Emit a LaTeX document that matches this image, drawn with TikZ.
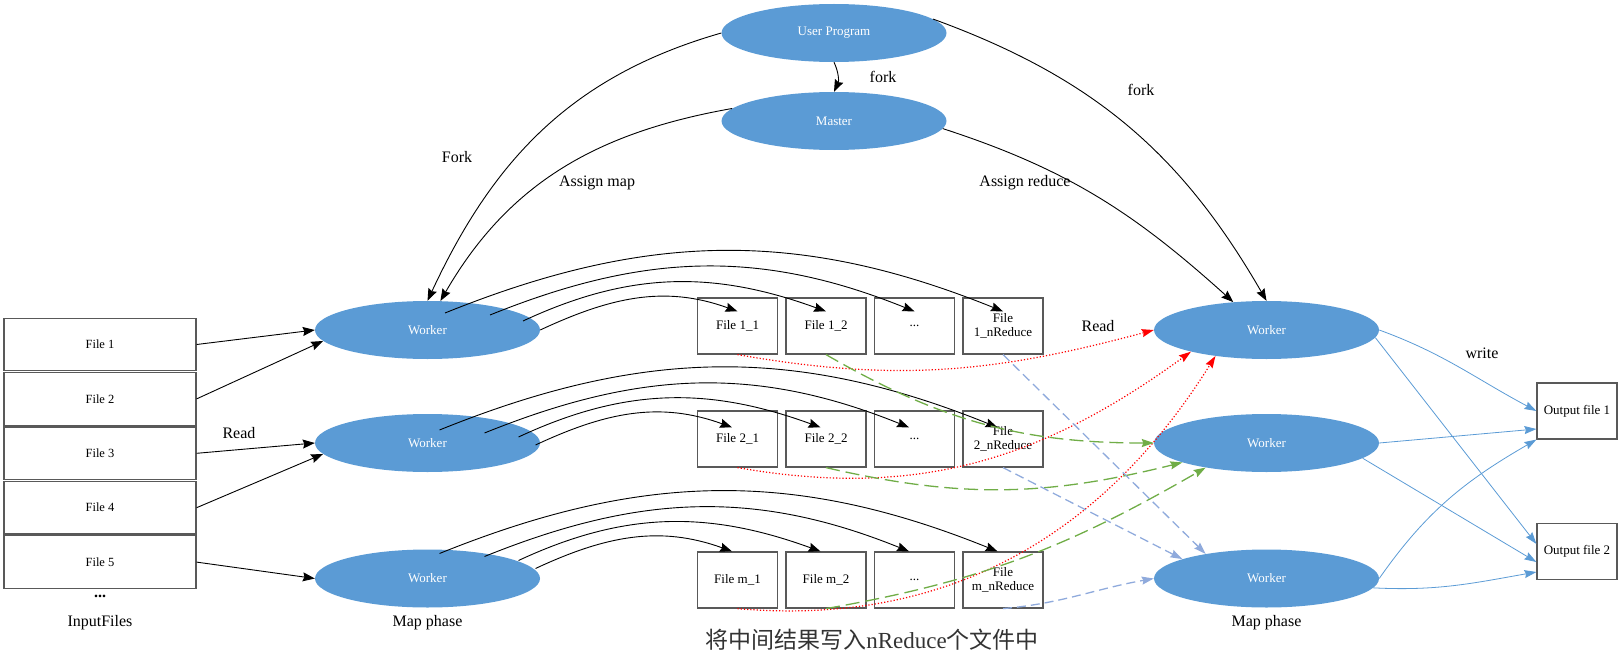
\documentclass[tikz,border=0pt]{standalone}
\usepackage{fontspec}
\setmainfont{Liberation Serif}
\newfontfamily\cjk{Noto Sans CJK SC}
\usepackage{tikz}
\usetikzlibrary{shapes.geometric, arrows.meta}

\definecolor{wblue}{HTML}{5B9BD5}
\definecolor{mgreen}{HTML}{70AD47}
\definecolor{lblue}{HTML}{8FAADC}

\begin{document}
\begin{tikzpicture}[x=1pt, y=1pt, node distance=113pt]
        \tikzstyle{worker} = [ellipse, minimum width=225pt, minimum height=58pt, inner sep=0pt, fill=wblue, text=white, font=\fontsize{13}{15}\selectfont]
        \tikzstyle{infile} = [rectangle, minimum width=192pt, minimum height=52.5pt, draw=black!65, line width=1.2pt, font=\fontsize{12.5}{15}\selectfont]
        \tikzstyle{midfile} = [rectangle, minimum width=80pt, minimum height=56pt, draw=black!65, line width=1.2pt, align=center, font=\fontsize{13}{14}\selectfont]
        \tikzstyle{lbl} = [font=\fontsize{16}{18}\selectfont]
        \tikzstyle{arrow} = [line width=0.9pt, -{Stealth[length=12pt, width=9pt, inset=1.5pt]}]
        \tikzstyle{readline} = [line width=1.2pt, red, dotted, -{Stealth[length=12pt, width=8pt, inset=1.5pt]}]
        \tikzstyle{greenline} = [line width=1.3pt, mgreen, dash pattern=on 14pt off 6pt, -{Stealth[length=12pt, width=8pt, inset=1.5pt]}]
        \tikzstyle{bluedash} = [line width=1.3pt, lblue, dash pattern=on 9pt off 5pt, -{Stealth[length=12pt, width=8pt, inset=1.5pt]}]
        \tikzstyle{outarrow} = [line width=0.8pt, wblue, -{Stealth[length=12pt, width=8pt, inset=1.5pt]}]

        \useasboundingbox (0,0) rectangle (1621,-666);

        \node (up) [worker] at (834,-33) {User Program};
        \node (master) [worker, below of=up, yshift=25pt] {Master};

        \node (mw1) [worker] at (427.5,-330) {Worker};
        \node (mw2) [worker, below of=mw1] {Worker};
        \node (mw3) [worker, below of=mw2, yshift=-22.5pt] {Worker};

        \node (rw1) [worker] at (1266.5,-330) {Worker};
        \node (rw2) [worker, below of=rw1] {Worker};
        \node (rw3) [worker, below of=rw2, yshift=-22.5pt] {Worker};

        \node (in1) [infile] at (100,-344.5) {File 1};
        \node (in2) [infile, below of=in1, yshift=58.6pt] {File 2};
        \node (in3) [infile, below of=in2, yshift=58.6pt] {File 3};
        \node (in4) [infile, below of=in3, yshift=58.6pt] {File 4};
        \node (in5) [infile, below of=in4, yshift=58.6pt] {File 5};

        \node (f11) [midfile] at (737.5,-326) {File 1\_1};
        \node (f12) [midfile, right of=f11, xshift=-24.5pt] {File 1\_2};
        \node (f13) [midfile, right of=f12, xshift=-24.5pt] {...};
        \node (f14) [midfile, right of=f13, xshift=-24.5pt] {File\\1\_nReduce};
        \node (f21) [midfile, below of=f11] {File 2\_1};
        \node (f22) [midfile, right of=f21, xshift=-24.5pt] {File 2\_2};
        \node (f23) [midfile, right of=f22, xshift=-24.5pt] {...};
        \node (f24) [midfile, right of=f23, xshift=-24.5pt] {File\\2\_nReduce};
        \node (fm1) [midfile, below of=f21, yshift=-28pt] {File m\_1};
        \node (fm2) [midfile, right of=fm1, xshift=-24.5pt] {File m\_2};
        \node (fm3) [midfile, right of=fm2, xshift=-24.5pt] {...};
        \node (fm4) [midfile, right of=fm3, xshift=-24.5pt] {File\\m\_nReduce};

        \node (out1) [midfile] at (1577,-411) {Output file 1};
        \node (out2) [midfile, below of=out1, yshift=-27.5pt] {Output file 2};

        \node (lfork1) [lbl] at (883,-77) {fork};
        \node (lfork2) [lbl] at (1141,-90) {fork};
        \node (lfork3) [lbl] at (457,-157) {Fork};
        \node (lamap) [lbl] at (597,-183) {Assign map};
        \node (lared) [lbl] at (1025,-183) {Assign reduce};
        \node (lread1) [lbl] at (239,-433) {Read};
        \node (lread2) [lbl] at (1098,-326) {Read};
        \node (lwrite) [lbl] at (1482,-353) {write};
        \node (ldots) [lbl] at (100,-596) {\textbf{...}};
        \node (linput) [lbl] at (100,-623) {InputFiles};
        \node (lmap1) [lbl] at (427.5,-623) {Map phase};
        \node (lmap2) [lbl] at (1266.5,-623) {Map phase};
        \node (lcap) [text=black!80, font=\fontsize{23}{26}\selectfont] at (872,-640) {{\cjk 将中间结果写入}nReduce{\cjk 个文件中}};

        % read the input splits
        \draw [arrow] (in1.east) -- (mw1.west);
        \draw [arrow] (in2.east) -- (mw1.186);
        \draw [arrow] (in3.east) -- (mw2.west);
        \draw [arrow] (in4.east) -- (mw2.186);
        \draw [arrow] (in5.east) -- (mw3.west);

        % fork and assign
        \draw [arrow] (up.south) to[bend left=25] (master.north);
        \draw [arrow] (up.west) to[out=196, in=65] (mw1.north);
        \draw [arrow] (master.173) to[out=190, in=60] (mw1.66);
        \draw [arrow] (up.8) to[out=-20, in=120] (rw1.north);
        \draw [arrow] (master.-4) to[out=-18, in=138] (rw1.140);

        % map output
        \draw [arrow] (mw1.east) to[out=25, in=160] ([yshift=-14pt]f11.north);
        \draw [arrow] ([xshift=95.5pt, yshift=9pt]mw1.center) to[out=25, in=160] ([yshift=-14pt]f12.north);
        \draw [arrow] ([xshift=62.5pt, yshift=15pt]mw1.center) to[out=22, in=158] ([yshift=-14pt]f13.north);
        \draw [arrow] ([xshift=17.5pt, yshift=17pt]mw1.center) to[out=22, in=158] ([yshift=-14pt]f14.north);

        \draw [arrow] ([xshift=108pt, yshift=-2pt]mw2.center) to[out=25, in=160] ([xshift=-5.5pt, yshift=-17pt]f21.north);
        \draw [arrow] ([xshift=91pt, yshift=6pt]mw2.center) to[out=25, in=160] ([xshift=-5.5pt, yshift=-17pt]f22.north);
        \draw [arrow] ([xshift=57pt, yshift=10pt]mw2.center) to[out=22, in=158] ([xshift=-5.5pt, yshift=-17pt]f23.north);
        \draw [arrow] ([xshift=12pt, yshift=13pt]mw2.center) to[out=22, in=158] ([xshift=-5.5pt, yshift=-17pt]f24.north);

        \draw [arrow] ([xshift=108pt, yshift=10pt]mw3.center) to[out=25, in=160] ([xshift=-5.5pt]fm1.north);
        \draw [arrow] ([xshift=91pt, yshift=18pt]mw3.center) to[out=25, in=160] ([xshift=-5.5pt]fm2.north);
        \draw [arrow] ([xshift=57pt, yshift=22pt]mw3.center) to[out=22, in=158] ([xshift=-5.5pt]fm3.north);
        \draw [arrow] ([xshift=12pt, yshift=25pt]mw3.center) to[out=22, in=158] ([xshift=-5.5pt]fm4.north);

        % reduce reads
        \draw [readline] (f11.south) to[out=-10, in=195] (rw1.west);
        \draw [readline] (f21.south) to[out=-10, in=216] (rw1.196);
        \draw [readline] (fm1.south) to[out=-5, in=238] (rw1.207);

        \draw [greenline] (f12.south) to[out=-30, in=180] (rw2.west);
        \draw [greenline] (f22.south) to[out=-13, in=194] (rw2.193);
        \draw [greenline] (fm2.south) to[out=10, in=210] (rw2.202);

        \draw [bluedash] (f14.south) -- (rw3.158);
        \draw [bluedash] (f24.south) -- (rw3.167);
        \draw [bluedash] (fm4.south) to[out=5, in=190] (rw3.west);

        % write results
        \draw [outarrow] (rw1.east) to[out=-20, in=152] (out1.west);
        \draw [outarrow] (rw1.-4) -- ([yshift=7.5pt]out2.west);
        \draw [outarrow] (rw2.east) -- ([yshift=-18pt]out1.west);
        \draw [outarrow] (rw2.-9) -- ([yshift=-10.5pt]out2.west);
        \draw [outarrow] (rw3.east) to[out=55, in=210] (out1.south west);
        \draw [outarrow] (rw3.-5) to[out=-3, in=190] ([yshift=-20.5pt]out2.west);
    \end{tikzpicture}
\end{document}
